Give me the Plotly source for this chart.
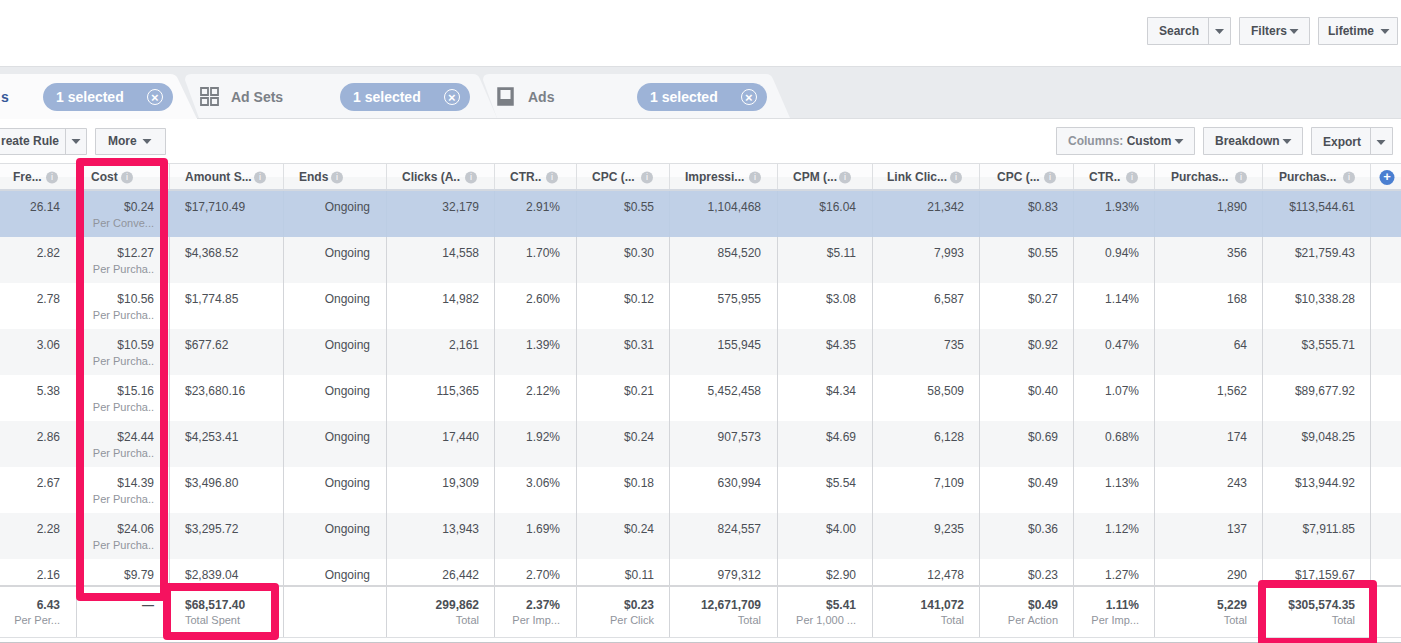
import plotly.graph_objects as go

# ---------- table data ----------
headers = ["Fre...", "Cost", "Amount S...", "Ends", "Clicks (A..", "CTR..", "CPC (...", "Impressi...",
           "CPM (...", "Link Clic...", "CPC (...", "CTR..", "Purchas...", "Purchas..."]

frequency = ["26.14", "2.82", "2.78", "3.06", "5.38", "2.86", "2.67", "2.28", "2.16"]
cost = ["$0.24", "$12.27", "$10.56", "$10.59", "$15.16", "$24.44", "$14.39", "$24.06", "$9.79"]
cost_sub = ["Per Conve...", "Per Purcha..", "Per Purcha..", "Per Purcha..", "Per Purcha..",
            "Per Purcha..", "Per Purcha..", "Per Purcha..", ""]
amount = ["$17,710.49", "$4,368.52", "$1,774.85", "$677.62", "$23,680.16", "$4,253.41",
          "$3,496.80", "$3,295.72", "$2,839.04"]
ends = ["Ongoing"] * 9
clicks = ["32,179", "14,558", "14,982", "2,161", "115,365", "17,440", "19,309", "13,943", "26,442"]
ctr = ["2.91%", "1.70%", "2.60%", "1.39%", "2.12%", "1.92%", "3.06%", "1.69%", "2.70%"]
cpc = ["$0.55", "$0.30", "$0.12", "$0.31", "$0.21", "$0.24", "$0.18", "$0.24", "$0.11"]
impressions = ["1,104,468", "854,520", "575,955", "155,945", "5,452,458", "907,573", "630,994",
               "824,557", "979,312"]
cpm = ["$16.04", "$5.11", "$3.08", "$4.35", "$4.34", "$4.69", "$5.54", "$4.00", "$2.90"]
link_clicks = ["21,342", "7,993", "6,587", "735", "58,509", "6,128", "7,109", "9,235", "12,478"]
link_cpc = ["$0.83", "$0.55", "$0.27", "$0.92", "$0.40", "$0.69", "$0.49", "$0.36", "$0.23"]
link_ctr = ["1.93%", "0.94%", "1.14%", "0.47%", "1.07%", "0.68%", "1.13%", "1.12%", "1.27%"]
purchases = ["1,890", "356", "168", "64", "1,562", "174", "243", "137", "290"]
purchase_value = ["$113,544.61", "$21,759.43", "$10,338.28", "$3,555.71", "$89,677.92", "$9,048.25",
                  "$13,944.92", "$7,911.85", "$17,159.67"]

total_main = ["6.43", "—", "$68,517.40", "", "299,862", "2.37%", "$0.23", "12,671,709", "$5.41",
              "141,072", "$0.49", "1.11%", "5,229", "$305,574.35"]
total_sub = ["Per Per...", "", "Total Spent", "", "Total", "Per Imp...", "Per Click", "Total",
             "Per 1,000 ...", "Total", "Per Action", "Per Imp...", "Total", "Total"]

tab_labels = ["Ad Sets", "Ads"]
pill_label = "1 selected"

# ---------- layout of the page, in pixels ----------
FONT = "Liberation Sans"
DARK = "#4b4f56"
GREY = "#90949c"
BORDER = "#ced0d4"
PINK = "#f5125f"

col_edges = [76, 169, 283, 386, 494, 576, 669, 777, 872, 979, 1073, 1154, 1262, 1370]
col_anchor = [60, 154, 185, 370, 479, 560, 654, 761, 856, 964, 1058, 1139, 1247, 1355]
head_left = [13, 91, 185, 299, 402, 510, 592, 685, 793, 887, 997, 1089, 1171, 1279]
head_icon = [52, 127, 260, 337, 471, 552, 647, 755, 845, 956, 1050, 1132, 1241, 1349]
row_tops = [191, 237, 283, 329, 375, 421, 467, 513, 559]
row_text_y = [t + 17 for t in row_tops]
sub_y = [t + 33 for t in row_tops]

shapes = []
annots = []


def rect(x0, y0, x1, y1, fill, line=None, width=1, layer="below"):
    shapes.append(dict(type="rect", x0=x0, y0=y0, x1=x1, y1=y1, fillcolor=fill, layer=layer,
                       line=dict(color=line or fill, width=width if line else 0)))


def path(d, fill, line=None, width=1, layer="below"):
    shapes.append(dict(type="path", path=d, fillcolor=fill, layer=layer,
                       line=dict(color=line or fill, width=width if line else 0)))


def hline(x0, x1, y, color):
    shapes.append(dict(type="line", x0=x0, x1=x1, y0=y + 0.5, y1=y + 0.5, line=dict(color=color, width=1), layer="below"))


def vline(x, y0, y1, color):
    shapes.append(dict(type="line", x0=x + 0.5, x1=x + 0.5, y0=y0, y1=y1, line=dict(color=color, width=1), layer="below"))


def label(x, y, text, size=12, color=DARK, anchor="left", bold=True):
    annots.append(dict(x=x, y=y, text=f"<b>{text}</b>" if bold else text, showarrow=False,
                       xanchor=anchor, yanchor="middle", borderpad=0,
                       font=dict(family=FONT, size=size, color=color)))


def caret(x, y, color="#606770"):
    path(f"M{x-4.5},{y-2} L{x+4.5},{y-2} L{x},{y+3} Z", color)


def button(x0, x1, y0, y1, divider=None):
    rect(x0 + 0.5, y0 + 0.5, x1 - 0.5, y1 - 0.5, "#f6f7f9", BORDER)
    if divider:
        vline(divider, y0, y1, BORDER)


def pink_box(x0, y0, x1, y1, t=8, r=4):
    # rounded outside, square inside: the inner ring runs the other way to leave a hole
    outer = (f"M{x0+r},{y0} L{x1-r},{y0} Q{x1},{y0} {x1},{y0+r} L{x1},{y1-r} Q{x1},{y1} {x1-r},{y1} "
             f"L{x0+r},{y1} Q{x0},{y1} {x0},{y1-r} L{x0},{y0+r} Q{x0},{y0} {x0+r},{y0} Z")
    inner = f"M{x0+t},{y0+t} L{x0+t},{y1-t} L{x1-t},{y1-t} L{x1-t},{y0+t} Z"
    path(outer + " " + inner, PINK, layer="above")


# tab strip
rect(0, 66, 1401, 118, "#e9ebee")
hline(0, 1401, 66, "#dddfe2")
path("M483,80 Q483,74 489,74 L766,74 Q771,74 773,79 L790,118 L497,118 Z", "#f6f7f9")
path("M185,80 Q185,74 191,74 L473,74 Q478,74 480,79 L497,118 L199,118 Z", "#f6f7f9")
hline(197, 1401, 118, "#dddfe2")
path("M-5,74 L170,74 Q176,74 178,79 L197,119 L-5,119 Z", "#fbfbfc")

for x0, icon_x in [(43, 155), (340, 452), (637, 749)]:
    path(f"M{x0+14},83 L{x0+116},83 C{x0+123.7},83 {x0+130},89.3 {x0+130},97 C{x0+130},104.7 {x0+123.7},111 {x0+116},111 "
         f"L{x0+14},111 C{x0+6.3},111 {x0},104.7 {x0},97 C{x0},89.3 {x0+6.3},83 {x0+14},83 Z", "#9db3d7")
    label(x0 + 12, 97, pill_label, size=14, color="#ffffff")
    shapes.append(dict(type="circle", x0=icon_x - 7.5, x1=icon_x + 7.5, y0=89.5, y1=104.5,
                       line=dict(color="#ffffff", width=1), fillcolor="rgba(0,0,0,0)", layer="below"))
    label(icon_x, 97, "×", size=13, color="#ffffff", anchor="center")

label(0, 97, "s", size=14, color="#365899")
label(230, 97, tab_labels[0], size=14, color="#7b8087")
label(527, 97, tab_labels[1], size=14, color="#7b8087")
for x, y in [(201, 88), (211, 88), (201, 98), (211, 98)]:
    rect(x, y, x + 7, y + 7, "#f6f7f9", "#7b7f85", 1.8)
rect(498, 88, 513, 105, "#7b7f85", "#7b7f85", 1.5)
rect(500.5, 90, 510.5, 99, "#f6f7f9")

# toolbars
button(1147, 1231, 17, 45, 1208)
button(1239, 1310, 17, 45)
button(1318, 1398, 17, 45)
label(1158, 31, "Search")
caret(1219.5, 31)
label(1250, 31, "Filters")
caret(1294, 31)
label(1327, 31, "Lifetime")
caret(1385, 31)

button(-5, 87, 128, 155, 65)
button(95, 166, 128, 155)
label(0, 141, "reate Rule")
caret(76, 141)
label(107, 141, "More")
caret(147, 141)

button(1056, 1195, 127, 155)
button(1203, 1303, 127, 155)
button(1311, 1393, 127, 155, 1370)
label(1067, 141, f'<span style="color:{GREY}">Columns:</span> Custom')
caret(1179, 141)
label(1214, 141, "Breakdown")
caret(1287, 141)
label(1322, 142, "Export")
caret(1381, 142)

# table background
rect(0, 163, 1401, 177, "#fcfcfd")
rect(0, 177, 1401, 191, "#f5f6f7")
hline(0, 1401, 163, "#dddfe2")
for i, top in enumerate(row_tops):
    if i == 0:
        rect(0, top, 1401, top + 46, "#c0d0e7")
    elif i % 2 == 1:
        rect(0, top, 1401, top + 46, "#f5f6f7")
for x in col_edges:
    vline(x, 163, 191, "#dddfe2")
    vline(x, 191, 237, "#bccde4")
    vline(x, 237, 637, "#d3d5d9")
rect(0, 189, 1401, 191, "#d3d8e0")
rect(0, 585, 1401, 587, "#d6d7da")
hline(0, 1401, 637, "#dddfe2")
hline(0, 1401, 642, "#c4c6ca")

# pink highlight boxes
pink_box(76, 158, 168, 601)
pink_box(163, 583, 279, 640)
pink_box(1258, 580, 1377, 646)

# ---------- text marks ----------
fig = go.Figure()


def add_text(xs, ys, text, pos, size=12, color=DARK):
    fig.add_trace(go.Scatter(x=xs, y=ys, text=text, mode="text", textposition=pos, cliponaxis=False,
                             textfont=dict(family=FONT, size=size, color=color), hoverinfo="skip"))


columns = [frequency, cost, amount, ends, clicks, ctr, cpc, impressions, cpm, link_clicks, link_cpc,
           link_ctr, purchases, purchase_value]
for i, values in enumerate(columns):
    pos = "middle right" if i == 2 else "middle left"
    add_text([col_anchor[i]] * len(values), row_text_y, values, pos)
    add_text([col_anchor[i]], [606], [f"<b>{total_main[i]}</b>"], pos)
    add_text([col_anchor[i]], [621], [total_sub[i]], pos, size=11, color=GREY)

add_text([col_anchor[1]] * len(cost_sub), sub_y, cost_sub, "middle left", size=11, color=GREY)
add_text(head_left, [178] * len(headers), [f"<b>{h}</b>" for h in headers], "middle right")

# info icons and the add-column button
fig.add_trace(go.Scatter(x=head_icon, y=[177.5] * len(head_icon), mode="markers+text", text=["i"] * len(head_icon),
                         textposition="middle center", hoverinfo="skip",
                         textfont=dict(family=FONT, size=9, color="#ffffff"),
                         marker=dict(size=12, color="#c4c8ce")))
fig.add_trace(go.Scatter(x=[1387], y=[177.5], mode="markers+text", text=["<b>+</b>"], textposition="middle center",
                         hoverinfo="skip", textfont=dict(family=FONT, size=13, color="#ffffff"),
                         marker=dict(size=15, color="#4a7fd1")))

fig.update_layout(
    width=1401, height=643, margin=dict(l=0, r=0, t=0, b=0), showlegend=False,
    paper_bgcolor="#ffffff", plot_bgcolor="#ffffff", shapes=shapes, annotations=annots,
    xaxis=dict(range=[0, 1401], visible=False, fixedrange=True),
    yaxis=dict(range=[643, 0], visible=False, fixedrange=True),
)
fig.write_html("out.html", config={"displayModeBar": False},
               post_script="document.body.style.margin='0';document.body.style.overflow='hidden';")
